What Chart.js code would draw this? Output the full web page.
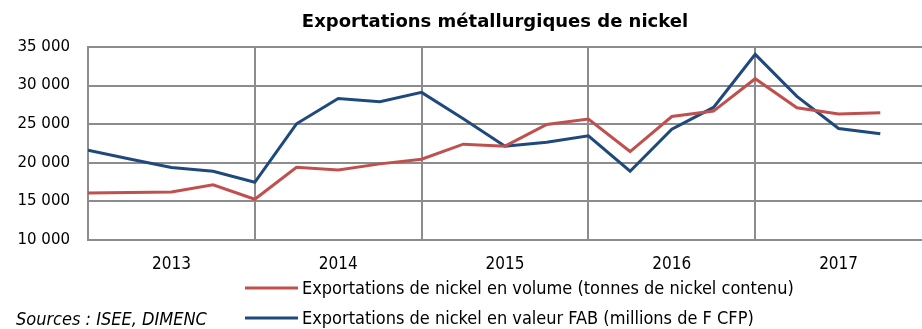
<!DOCTYPE html>
<html lang="fr">
<head>
<meta charset="utf-8">
<title>Exportations métallurgiques de nickel</title>
<script src="https://cdn.jsdelivr.net/npm/chart.js@4/dist/chart.umd.min.js"></script>
<style>
  html, body { margin: 0; padding: 0; background: #fff; overflow: hidden; }
  canvas { display: block; }
</style>
</head>
<body>
<canvas id="nickel-chart" width="922" height="329"></canvas>
<script>
// trimestres 2013 - 2017
const quarters = [
    'T1 2013', 'T2 2013', 'T3 2013', 'T4 2013',
    'T1 2014', 'T2 2014', 'T3 2014', 'T4 2014',
    'T1 2015', 'T2 2015', 'T3 2015', 'T4 2015',
    'T1 2016', 'T2 2016', 'T3 2016', 'T4 2016',
    'T1 2017', 'T2 2017', 'T3 2017', 'T4 2017'
];
const years = ['2013', '2014', '2015', '2016', '2017'];

// tonnes de nickel contenu
const volume = [16100, 16150, 16230, 17140, 15280, 19430, 19080, 19860, 20470, 22410,
                22150, 24970, 25660, 21460, 26000, 26700, 30890, 27130, 26310, 26480];
// millions de F CFP
const valeur = [21640, 20500, 19390, 18910, 17480, 25050, 28340, 27910, 29120, 25700,
                22150, 22670, 23500, 18910, 24360, 27170, 34050, 28600, 24450, 23750];

const yTicks = [10000, 15000, 20000, 25000, 30000, 35000];

const seriesNames = [
    'Exportations de nickel en volume (tonnes de nickel contenu)',
    'Exportations de nickel en valeur FAB (millions de F CFP)'
];
const titleText = 'Exportations métallurgiques de nickel';
const sourceText = 'Sources : ISEE, DIMENC';

const RED = '#c0504d';
const BLUE = '#1f497d';
const GRID = '#8c8c8c';
const NARROW = '"DejaVu Sans Condensed", "DejaVu Sans"';

const fmt = v => String(v).replace(/\B(?=(\d{3})+(?!\d))/g, ' ');

// titre, légende verticale et sources dessinés à la main
const decorations = {
    id: 'decorations',
    afterDraw(chart) {
        const ctx = chart.ctx;
        ctx.save();
        ctx.fillStyle = '#000';
        ctx.textBaseline = 'alphabetic';
        ctx.font = 'bold 18px "DejaVu Sans"';
        ctx.textAlign = 'center';
        ctx.fillText(titleText, 495, 27);

        ctx.textAlign = 'left';
        ctx.font = '18px ' + NARROW;
        const rows = [288, 318];
        chart.data.datasets.forEach((ds, i) => {
            ctx.strokeStyle = ds.borderColor;
            ctx.lineWidth = 3;
            ctx.beginPath();
            ctx.moveTo(245, rows[i]);
            ctx.lineTo(298, rows[i]);
            ctx.stroke();
            ctx.fillText(ds.label, 302, rows[i] + 6);
        });

        ctx.font = 'italic 18px ' + NARROW;
        ctx.fillText(sourceText, 16, rows[1] + 7);
        ctx.restore();
    }
};

new Chart(document.getElementById('nickel-chart'), {
    type: 'line',
    data: {
        datasets: [{
            label: seriesNames[0],
            data: quarters.map((q, i) => ({ x: i, y: volume[i] })),
            borderColor: RED,
            backgroundColor: RED,
            borderWidth: 3,
            pointRadius: 0,
            tension: 0
        }, {
            label: seriesNames[1],
            data: quarters.map((q, i) => ({ x: i, y: valeur[i] })),
            borderColor: BLUE,
            backgroundColor: BLUE,
            borderWidth: 3,
            pointRadius: 0,
            tension: 0
        }]
    },
    options: {
        responsive: false,
        animation: false,
        layout: { padding: { top: 47, right: 0, bottom: 0, left: 0 } },
        plugins: {
            legend: { display: false },
            title: { display: false },
            tooltip: { enabled: false }
        },
        scales: {
            x: {
                type: 'linear',
                min: 0,
                max: quarters.length,
                afterBuildTicks: (scale) => {
                    const t = [];
                    for (let v = 0; v < quarters.length; v += 2) t.push({ value: v });
                    scale.ticks = t;
                },
                afterFit: (scale) => {
                    scale.height = 89;
                    scale.paddingRight = 0;
                },
                border: { display: true, color: GRID, width: 2 },
                grid: {
                    drawTicks: false,
                    lineWidth: 2,
                    color: (c) => (c.tick && c.tick.value % 4 === 0) ? GRID : 'rgba(0,0,0,0)'
                },
                ticks: {
                    autoSkip: false,
                    maxRotation: 0,
                    padding: 14,
                    color: '#000',
                    font: { family: NARROW, size: 17 },
                    callback: (v) => (v % 4 === 2) ? years[(v - 2) / 4] : ''
                }
            },
            y: {
                min: yTicks[0],
                max: yTicks[yTicks.length - 1],
                afterBuildTicks: (scale) => { scale.ticks = yTicks.map(v => ({ value: v })); },
                afterFit: (scale) => { scale.width = 88; },
                border: { display: true, color: GRID, width: 2 },
                grid: { drawTicks: false, lineWidth: 2, color: GRID },
                ticks: {
                    padding: 18,
                    color: '#000',
                    font: { family: '"DejaVu Sans"', size: 15 },
                    callback: (v) => fmt(v)
                }
            }
        }
    },
    plugins: [decorations]
});
</script>
</body>
</html>
